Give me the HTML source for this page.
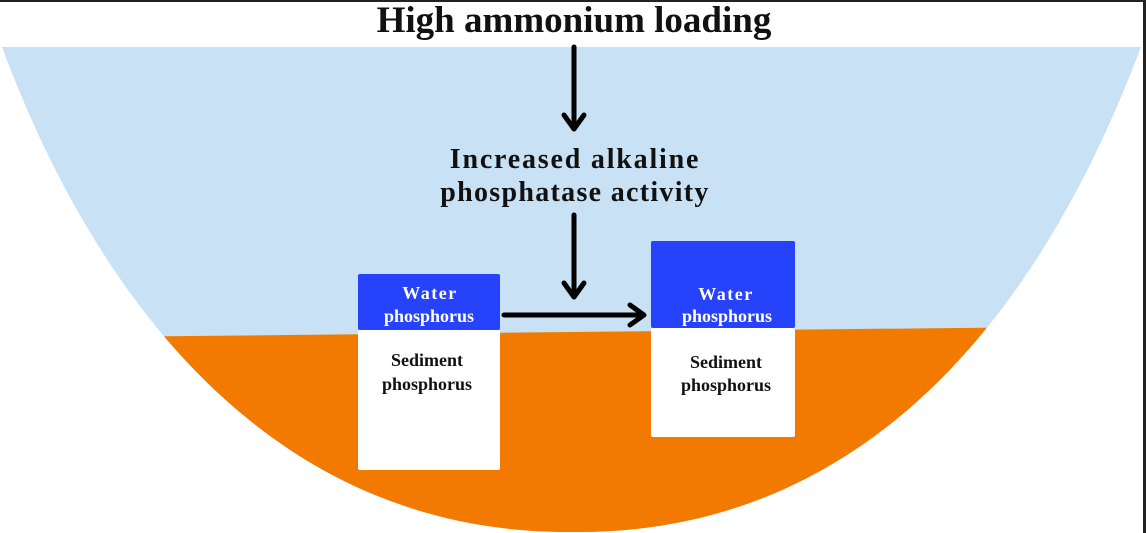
<!DOCTYPE html>
<html><head><meta charset="utf-8"><style>
html,body{margin:0;padding:0;background:#fff;}
svg{display:block;}
</style></head><body>
<svg width="1146" height="533" viewBox="0 0 1146 533" xmlns="http://www.w3.org/2000/svg">
<defs>
<clipPath id="bowl"><path d="M2,47 C70,230 230,535 573,532 C916,535 1072,230 1141,47 Z"/></clipPath>
</defs>
<rect x="0" y="0" width="1146" height="533" fill="#fff"/>
<rect x="0" y="0" width="1146" height="2" fill="#222"/>
<rect x="1143" y="0" width="3" height="533" fill="#222"/>
<g clip-path="url(#bowl)">
<rect x="0" y="47" width="1146" height="500" fill="#c9e1f4"/>
<polygon points="0,338 1146,326 1146,540 0,540" fill="#f27a00"/>
</g>
<text x="574" y="32" text-anchor="middle" font-family="Liberation Serif, serif" font-weight="bold" font-size="37" fill="#111">High ammonium loading</text>
<text x="575" y="168" text-anchor="middle" font-family="Liberation Serif, serif" font-weight="bold" font-size="28" letter-spacing="1.8" fill="#111">Increased alkaline</text>
<text x="575" y="201" text-anchor="middle" font-family="Liberation Serif, serif" font-weight="bold" font-size="28" letter-spacing="1.3" fill="#111">phosphatase activity</text>
<g stroke="#000" stroke-width="5" fill="none" stroke-linecap="round" stroke-linejoin="round">
<line x1="574" y1="47" x2="574" y2="128"/>
<polyline points="564,115 574,129 584,115"/>
<line x1="574" y1="215" x2="574" y2="296"/>
<polyline points="564,283 574,297 584,283"/>
<line x1="504" y1="315" x2="643" y2="315"/>
<polyline points="630,305 644,315 630,325"/>
</g>
<rect x="358" y="274" width="142" height="56" rx="2" fill="#2642fb"/>
<rect x="358" y="330" width="142" height="140" rx="2" fill="#fff"/>
<rect x="651" y="241" width="144" height="87" rx="2" fill="#2642fb"/>
<rect x="651" y="328" width="144" height="109" rx="2" fill="#fff"/>
<g font-family="Liberation Serif, serif" font-weight="bold" font-size="18" text-anchor="middle">
<text x="430" y="299" fill="#fff" letter-spacing="1.5">Water</text>
<text x="429" y="322" fill="#fff">phosphorus</text>
<text x="427" y="366" fill="#111">Sediment</text>
<text x="427" y="390" fill="#111">phosphorus</text>
<text x="726" y="300" fill="#fff" letter-spacing="1.5">Water</text>
<text x="727" y="322" fill="#fff">phosphorus</text>
<text x="726" y="368" fill="#111">Sediment</text>
<text x="726" y="391" fill="#111">phosphorus</text>
</g>
</svg>
</body></html>
